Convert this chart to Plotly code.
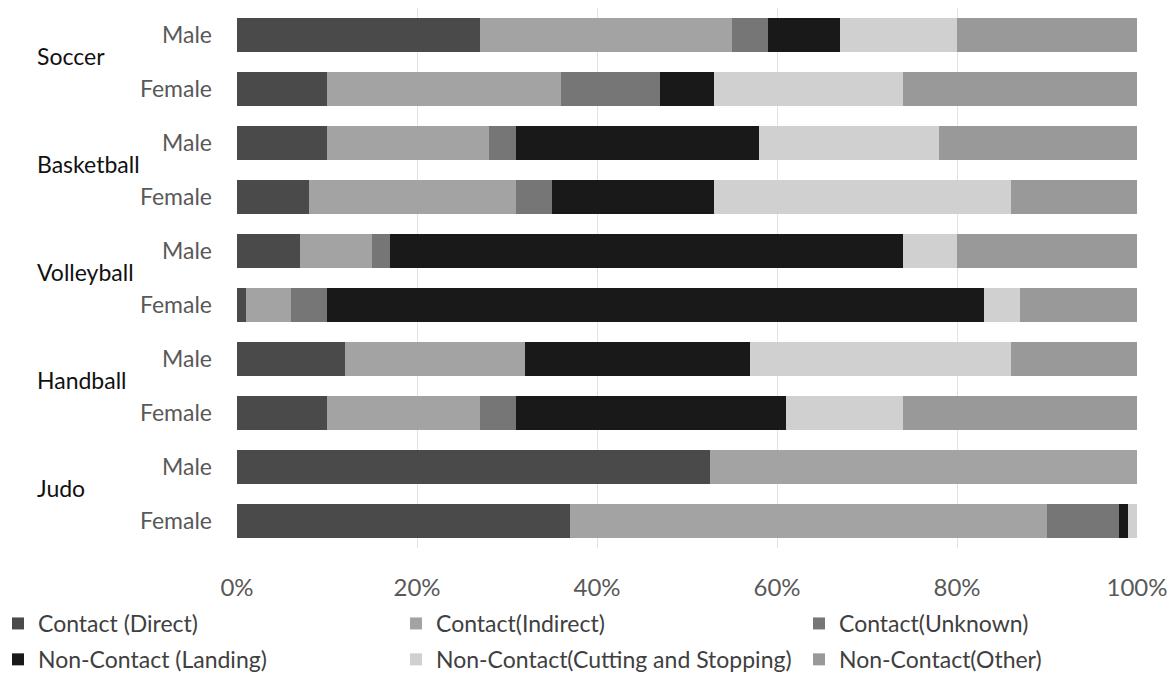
import plotly.graph_objects as go

sports = ["Soccer", "Basketball", "Volleyball", "Handball", "Judo"]
sexes = ["Male", "Female"]

series_names = [
    "Contact (Direct)",
    "Contact(Indirect)",
    "Contact(Unknown)",
    "Non-Contact (Landing)",
    "Non-Contact(Cutting and Stopping)",
    "Non-Contact(Other)",
]
colors = ["#4a4a4a", "#a3a3a3", "#767676", "#191919", "#d0d0d0", "#999999"]

# rows: Soccer M, Soccer F, Basketball M, Basketball F, Volleyball M, Volleyball F,
#       Handball M, Handball F, Judo M, Judo F  (percent)
contact_direct = [27, 10, 10, 8, 7, 1, 12, 10, 52.5, 37]
contact_indirect = [28, 26, 18, 23, 8, 5, 20, 17, 47.5, 53]
contact_unknown = [4, 11, 3, 4, 2, 4, 0, 4, 0, 8]
noncontact_landing = [8, 6, 27, 18, 57, 73, 25, 30, 0, 1]
noncontact_cutting = [13, 21, 20, 33, 6, 4, 29, 13, 0, 1]
noncontact_other = [20, 26, 22, 14, 20, 13, 14, 26, 0, 0]

series_values = [contact_direct, contact_indirect, contact_unknown,
                 noncontact_landing, noncontact_cutting, noncontact_other]

x_tick_vals = [0, 20, 40, 60, 80, 100]
x_tick_text = ["0%", "20%", "40%", "60%", "80%", "100%"]

FONT = "Lato"
rows = list(range(len(sports) * len(sexes)))
row_labels = [s for _ in sports for s in sexes]

# legend columns: each column is its own vertical legend
legend_of_series = ["legend", "legend2", "legend3", "legend", "legend2", "legend3"]

fig = go.Figure()
for name, vals, col, lg in zip(series_names, series_values, colors, legend_of_series):
    fig.add_trace(go.Bar(
        x=vals, y=rows, name=name, orientation="h",
        marker=dict(color=col, line=dict(width=0)),
        legend=lg, legendgroup=name,
    ))

# page body has an 8px margin; figure coords = screen coords - 8
OFF = 8
W, H = 1160, 670
ml, mr, mt, mb = 229, 31, 0, 130
pw = W - ml - mr
ph = H - mt - mb

def px_to_paper_x(px):
    return (px - OFF - ml) / pw

def px_to_paper_y(py):
    return (H - mb - (py - OFF)) / ph

annotations = []
for i, sp in enumerate(sports):
    annotations.append(dict(
        text=sp, xref="paper", x=px_to_paper_x(35), xanchor="left",
        yref="y", y=i * 2 + 0.5, yanchor="middle", yshift=6, showarrow=False,
        font=dict(family=FONT, size=23, color="#111111"),
    ))

legend_common = dict(
    orientation="v", traceorder="grouped", tracegroupgap=3,
    font=dict(family=FONT, size=23, color="#404040"),
    bgcolor="rgba(0,0,0,0)", borderwidth=0,
    xanchor="left", yanchor="top", y=px_to_paper_y(602),
    itemclick=False, itemdoubleclick=False,
)

fig.update_layout(
    width=W, height=H,
    margin=dict(l=ml, r=mr, t=mt, b=mb, autoexpand=False),
    paper_bgcolor="white", plot_bgcolor="white",
    barmode="stack", bargap=0.37,
    showlegend=True,
    legend=dict(x=px_to_paper_x(-2), **legend_common),
    legend2=dict(x=px_to_paper_x(396), **legend_common),
    legend3=dict(x=px_to_paper_x(799), **legend_common),
    xaxis=dict(
        range=[0, 100], tickvals=x_tick_vals, ticktext=x_tick_text,
        showgrid=True, gridcolor="#e2e2e2", gridwidth=1, zeroline=False,
        showline=False, ticks="", ticklabelstandoff=23,
        tickfont=dict(family=FONT, size=24, color="#595959"),
    ),
    yaxis=dict(
        tickvals=rows, ticktext=row_labels, range=[9.5, -0.5],
        showgrid=False, zeroline=False, showline=False, ticks="",
        ticklabelstandoff=24,
        tickfont=dict(family=FONT, size=23, color="#595959"),
    ),
    annotations=annotations,
)

fig.write_html("out.html")
